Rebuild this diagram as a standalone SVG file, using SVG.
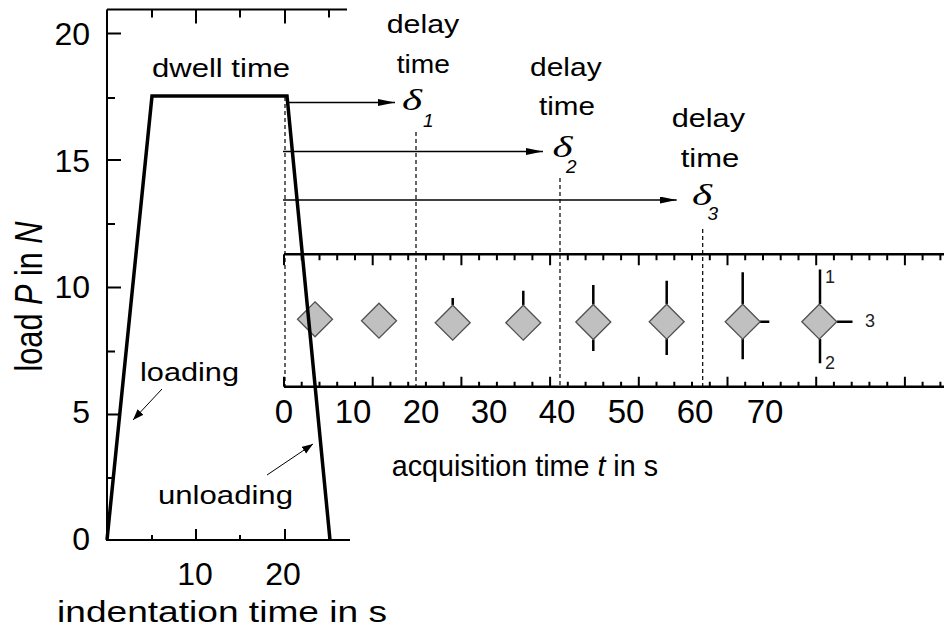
<svg xmlns="http://www.w3.org/2000/svg" width="944" height="628" viewBox="0 0 944 628">
<style>
text{font-family:"Liberation Sans",Arial,sans-serif;fill:#000}
.lbl{font-size:26px}
.dl{font-size:25px}
.tk{font-size:32px}
.itk{font-size:33px;text-anchor:middle}
.ax{stroke:#000;stroke-width:2;fill:none}
.iax{stroke:#000;stroke-width:2.5;fill:none}
.tick{stroke:#000;stroke-width:2;fill:none}
.dash{stroke:#000;stroke-width:1.2;stroke-dasharray:4 3;fill:none}
.arr{stroke:#000;stroke-width:1.3;fill:none}
.thin{stroke:#000;stroke-width:1;fill:none}
.bar{stroke:#000;stroke-width:2.5;fill:none}
.dia{fill:#c0c0c0;stroke:#505050;stroke-width:1.3}
.del{font-family:"Liberation Serif","Times New Roman",serif;font-style:italic;font-size:30px}
.sub{font-style:italic;font-size:19px}
.num{font-size:18px;fill:#222}
</style>
<defs>
<marker id="ah" markerUnits="userSpaceOnUse" markerWidth="18" markerHeight="8" refX="17" refY="3.5" orient="auto">
<path d="M0,0 L17,3.5 L0,7 Z" fill="#000"/>
</marker>
<marker id="ah2" markerUnits="userSpaceOnUse" markerWidth="12" markerHeight="9" refX="11" refY="4" orient="auto">
<path d="M0,0 L11,4 L0,8 Z" fill="#000"/>
</marker>
</defs>

<g id="main-axes">
<path class="ax" d="M107,9.5 V540 H350 M107,9.5 H347"/>
<path class="tick" d="M107,33.5 h14 M107,160 h14 M107,287.5 h14 M107,414.5 h14 M107,98 h8 M107,224 h8 M107,351.5 h8 M107,478 h8"/>
<path class="tick" d="M196,9.5 v14 M285,9.5 v14 M152,9.5 v8 M240,9.5 v8 M329,9.5 v8"/>
<path class="tick" d="M196,540 v-11 M285,540 v-11 M152,540 v-5 M240,540 v-5 M329,540 v-5"/>
<text class="tk" x="90" y="45" text-anchor="end">20</text>
<text class="tk" x="90" y="171.7" text-anchor="end">15</text>
<text class="tk" x="90" y="298.3" text-anchor="end">10</text>
<text class="tk" x="90" y="423.3" text-anchor="end">5</text>
<text class="tk" x="90" y="550" text-anchor="end">0</text>
<text class="tk" x="195" y="585" text-anchor="middle">10</text>
<text class="tk" x="283" y="585" text-anchor="middle">20</text>
<text x="57" y="621.7" font-size="30" textLength="330" lengthAdjust="spacingAndGlyphs">indentation time in s</text>
<text transform="translate(42,296.5) scale(1.2,1) rotate(-90)" text-anchor="middle" font-size="32" textLength="150" lengthAdjust="spacingAndGlyphs">load <tspan font-style="italic">P</tspan> in <tspan font-style="italic">N</tspan></text>
</g>

<g id="inset-axes">
<path class="iax" d="M284,254.3 H944 M284,386.7 H944"/>
<path class="tick" d="M284,254.3 v11 M372.7,254.3 v11 M461.4,254.3 v11 M550.1,254.3 v11 M638.8,254.3 v11 M727.5,254.3 v11 M816.2,254.3 v11 M904.9,254.3 v11"/>
<path class="tick" d="M301.7,254.3 v6 M319.5,254.3 v6 M337.2,254.3 v6 M355,254.3 v6 M390.4,254.3 v6 M408.2,254.3 v6 M425.9,254.3 v6 M443.7,254.3 v6 M479.1,254.3 v6 M496.9,254.3 v6 M514.6,254.3 v6 M532.4,254.3 v6 M567.8,254.3 v6 M585.6,254.3 v6 M603.3,254.3 v6 M621.1,254.3 v6 M656.5,254.3 v6 M674.3,254.3 v6 M692,254.3 v6 M709.8,254.3 v6 M745.2,254.3 v6 M763,254.3 v6 M780.7,254.3 v6 M798.5,254.3 v6 M833.9,254.3 v6 M851.7,254.3 v6 M869.4,254.3 v6 M887.2,254.3 v6 M922.6,254.3 v6 M940.4,254.3 v6"/>
<path class="tick" d="M284,386.7 v-10 M372.7,386.7 v-10 M461.4,386.7 v-10 M550.1,386.7 v-10 M638.8,386.7 v-10 M727.5,386.7 v-10 M816.2,386.7 v-10 M904.9,386.7 v-10"/>
<path class="tick" d="M301.7,386.7 v-5 M319.5,386.7 v-5 M337.2,386.7 v-5 M355,386.7 v-5 M390.4,386.7 v-5 M408.2,386.7 v-5 M425.9,386.7 v-5 M443.7,386.7 v-5 M479.1,386.7 v-5 M496.9,386.7 v-5 M514.6,386.7 v-5 M532.4,386.7 v-5 M567.8,386.7 v-5 M585.6,386.7 v-5 M603.3,386.7 v-5 M621.1,386.7 v-5 M656.5,386.7 v-5 M674.3,386.7 v-5 M692,386.7 v-5 M709.8,386.7 v-5 M745.2,386.7 v-5 M763,386.7 v-5 M780.7,386.7 v-5 M798.5,386.7 v-5 M833.9,386.7 v-5 M851.7,386.7 v-5 M869.4,386.7 v-5 M887.2,386.7 v-5 M922.6,386.7 v-5 M940.4,386.7 v-5"/>
<text class="itk" x="284" y="423">0</text>
<text class="itk" x="353" y="423">10</text>
<text class="itk" x="421" y="423">20</text>
<text class="itk" x="489" y="423">30</text>
<text class="itk" x="557" y="423">40</text>
<text class="itk" x="626" y="423">50</text>
<text class="itk" x="695" y="423">60</text>
<text class="itk" x="765" y="423">70</text>
<text x="391.7" y="476" font-size="28.7">acquisition time <tspan font-style="italic">t</tspan> in s</text>
</g>

<g id="connectors">
<path class="dash" d="M285,97 V387 M416,132 V387 M560,178 V387 M702.7,229 V387"/>
<path class="arr" d="M287,102.5 H395" marker-end="url(#ah)"/>
<path class="arr" d="M283,151.5 H543" marker-end="url(#ah)"/>
<path class="arr" d="M283,200 H676.7" marker-end="url(#ah)"/>
<path class="thin" d="M162,389 L133,420" marker-end="url(#ah2)"/>
<path class="thin" d="M267,475 L313,444" marker-end="url(#ah2)"/>
</g>

<g id="labels">
<text class="lbl" x="152" y="77" textLength="138" lengthAdjust="spacingAndGlyphs">dwell time</text>
<text class="lbl" x="140" y="381" textLength="99" lengthAdjust="spacingAndGlyphs">loading</text>
<text class="lbl" x="158" y="504" textLength="135" lengthAdjust="spacingAndGlyphs">unloading</text>
</g>

<g id="delay1">
<text class="dl" x="386.7" y="33.3" textLength="72.6" lengthAdjust="spacingAndGlyphs">delay</text>
<text class="dl" x="396.7" y="72.7" textLength="53.3" lengthAdjust="spacingAndGlyphs">time</text>
<text class="del" x="402" y="110" textLength="20" lengthAdjust="spacingAndGlyphs">δ</text>
<text class="sub" x="423" y="126.7">1</text>
</g>
<g id="delay2">
<text class="dl" x="530" y="76" textLength="71.7" lengthAdjust="spacingAndGlyphs">delay</text>
<text class="dl" x="539" y="115" textLength="56" lengthAdjust="spacingAndGlyphs">time</text>
<text class="del" x="552.5" y="157" textLength="20" lengthAdjust="spacingAndGlyphs">δ</text>
<text class="sub" x="566" y="173.3">2</text>
</g>
<g id="delay3">
<text class="dl" x="671.7" y="127.3" textLength="73.3" lengthAdjust="spacingAndGlyphs">delay</text>
<text class="dl" x="680.7" y="167.3" textLength="58.6" lengthAdjust="spacingAndGlyphs">time</text>
<text class="del" x="692" y="205" textLength="20" lengthAdjust="spacingAndGlyphs">δ</text>
<text class="sub" x="707.5" y="220">3</text>
</g>

<g id="error-bars">
<path class="bar" d="M452.7,305 V298 M523.3,305 V290.7 M593.3,304.5 V285 M593.3,339.5 V351 M666.7,304 V280.7 M666.7,339 V355 M742.7,304 V272.3 M742.7,339 V359.3 M760,321.7 H769.3 M820,304 V269.5 M820,339 V363.3 M836.8,321.7 H852.5"/>
</g>

<g id="points">
<path class="dia" d="M315,301.8 l17.5,17.5 l-17.5,17.5 l-17.5,-17.5 Z"/>
<path class="dia" d="M379,303.2 l17.5,17.5 l-17.5,17.5 l-17.5,-17.5 Z"/>
<path class="dia" d="M452.7,305.2 l17.5,17.5 l-17.5,17.5 l-17.5,-17.5 Z"/>
<path class="dia" d="M523.3,305.2 l17.5,17.5 l-17.5,17.5 l-17.5,-17.5 Z"/>
<path class="dia" d="M593.3,304.5 l17.5,17.5 l-17.5,17.5 l-17.5,-17.5 Z"/>
<path class="dia" d="M666.7,304.2 l17.5,17.5 l-17.5,17.5 l-17.5,-17.5 Z"/>
<path class="dia" d="M742.7,304.2 l17.5,17.5 l-17.5,17.5 l-17.5,-17.5 Z"/>
<path class="dia" d="M819.3,304.2 l17.5,17.5 l-17.5,17.5 l-17.5,-17.5 Z"/>
<text class="num" x="825" y="282.7">1</text>
<text class="num" x="825" y="369.3">2</text>
<text class="num" x="865" y="327.3">3</text>
</g>

<g id="load-curve">
<path d="M107,540 L152,96 L287,96 L330,540" fill="none" stroke="#000" stroke-width="3.5" stroke-linejoin="miter"/>
</g>
</svg>
